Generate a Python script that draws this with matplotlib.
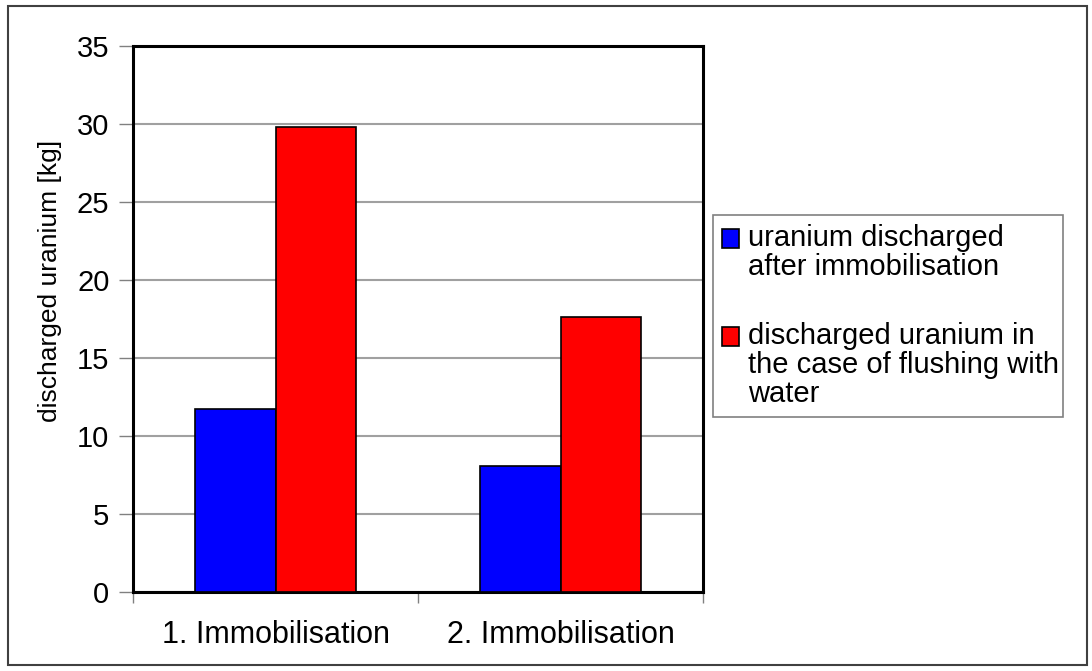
import matplotlib.pyplot as plt
import numpy as np
from matplotlib.patches import Rectangle
from matplotlib.legend_handler import HandlerPatch

plt.rcParams['font.family'] = ['Liberation Sans', 'DejaVu Sans']

categories = ["1. Immobilisation", "2. Immobilisation"]
after_immob = [11.7, 8.1]
flushing_water = [29.8, 17.6]
series_labels = ["uranium discharged\nafter immobilisation",
                 "discharged uranium in\nthe case of flushing with\nwater"]

W, H = 1092, 671
fig = plt.figure(figsize=(W / 100, H / 100), dpi=100)

# outer border around the whole chart
fig.patches.append(Rectangle((8 / W, 6 / H), 1079 / W, 659 / H,
                             transform=fig.transFigure, fill=False,
                             edgecolor='#404040', linewidth=1.5))

ax = fig.add_axes([133 / W, 1 - 592 / H, 570 / W, 546 / H])

x = np.arange(len(categories))
w = 0.283
b1 = ax.bar(x - w / 2, after_immob, w, color='#0000ff', edgecolor='black',
            linewidth=1.2, zorder=3)
b2 = ax.bar(x + w / 2, flushing_water, w, color='#ff0000', edgecolor='black',
            linewidth=1.2, zorder=3)

ax.set_xlim(-0.5, 1.5)
ax.set_ylim(0, 35)
ax.set_yticks(np.arange(0, 36, 5))
ax.yaxis.grid(True, color='#a0a0a0', linewidth=1.5, zorder=0)
ax.set_axisbelow(True)

# category separators as major ticks, names on minor ticks
ax.set_xticks([-0.5, 0.5, 1.5])
ax.set_xticklabels([])
ax.set_xticks(x, minor=True)
ax.set_xticklabels(categories, minor=True, fontsize=22)
ax.tick_params(axis='x', which='minor', length=0, pad=20)
ax.tick_params(axis='x', which='major', length=8, color='#808080', width=1)
ax.tick_params(axis='y', length=10, color='#808080', width=1, labelsize=21, pad=7)

for s in ax.spines.values():
    s.set_linewidth(2.2)
    s.set_color('black')

ax.set_ylabel("discharged uranium [kg]", fontsize=19)
ax.yaxis.set_label_coords(-0.125, 0.57)

# legend squares sit level with the first text line of each entry
LEG_FS = 21
LINESP = 1.05


def square_handler(nlines):
    shift = (nlines - 1) / 2 * LINESP * 0.94 * LEG_FS

    def make(legend, orig_handle, xdescent, ydescent, width, height, fontsize):
        return Rectangle((-xdescent, -ydescent + shift), width, height)
    return HandlerPatch(patch_func=make)


handles = [b1[0], b2[0]]
hmap = {h: square_handler(lbl.count("\n") + 1) for h, lbl in zip(handles, series_labels)}
leg_top = 1 - 215 / H
leg = fig.legend(handles=handles, labels=series_labels, handler_map=hmap,
                 loc='upper left',
                 bbox_to_anchor=(713 / W, leg_top - 0.3, 350 / W, 0.3),
                 mode='expand', fontsize=LEG_FS, frameon=True, fancybox=False,
                 edgecolor='#808080', framealpha=1, borderpad=0.3,
                 handlelength=0.6, handleheight=0.6, handletextpad=0.3,
                 labelspacing=1.4, borderaxespad=0)
leg.get_frame().set_linewidth(1.2)
for t in leg.get_texts():
    t.set_linespacing(LINESP)

fig.savefig("out.png", dpi=100)
